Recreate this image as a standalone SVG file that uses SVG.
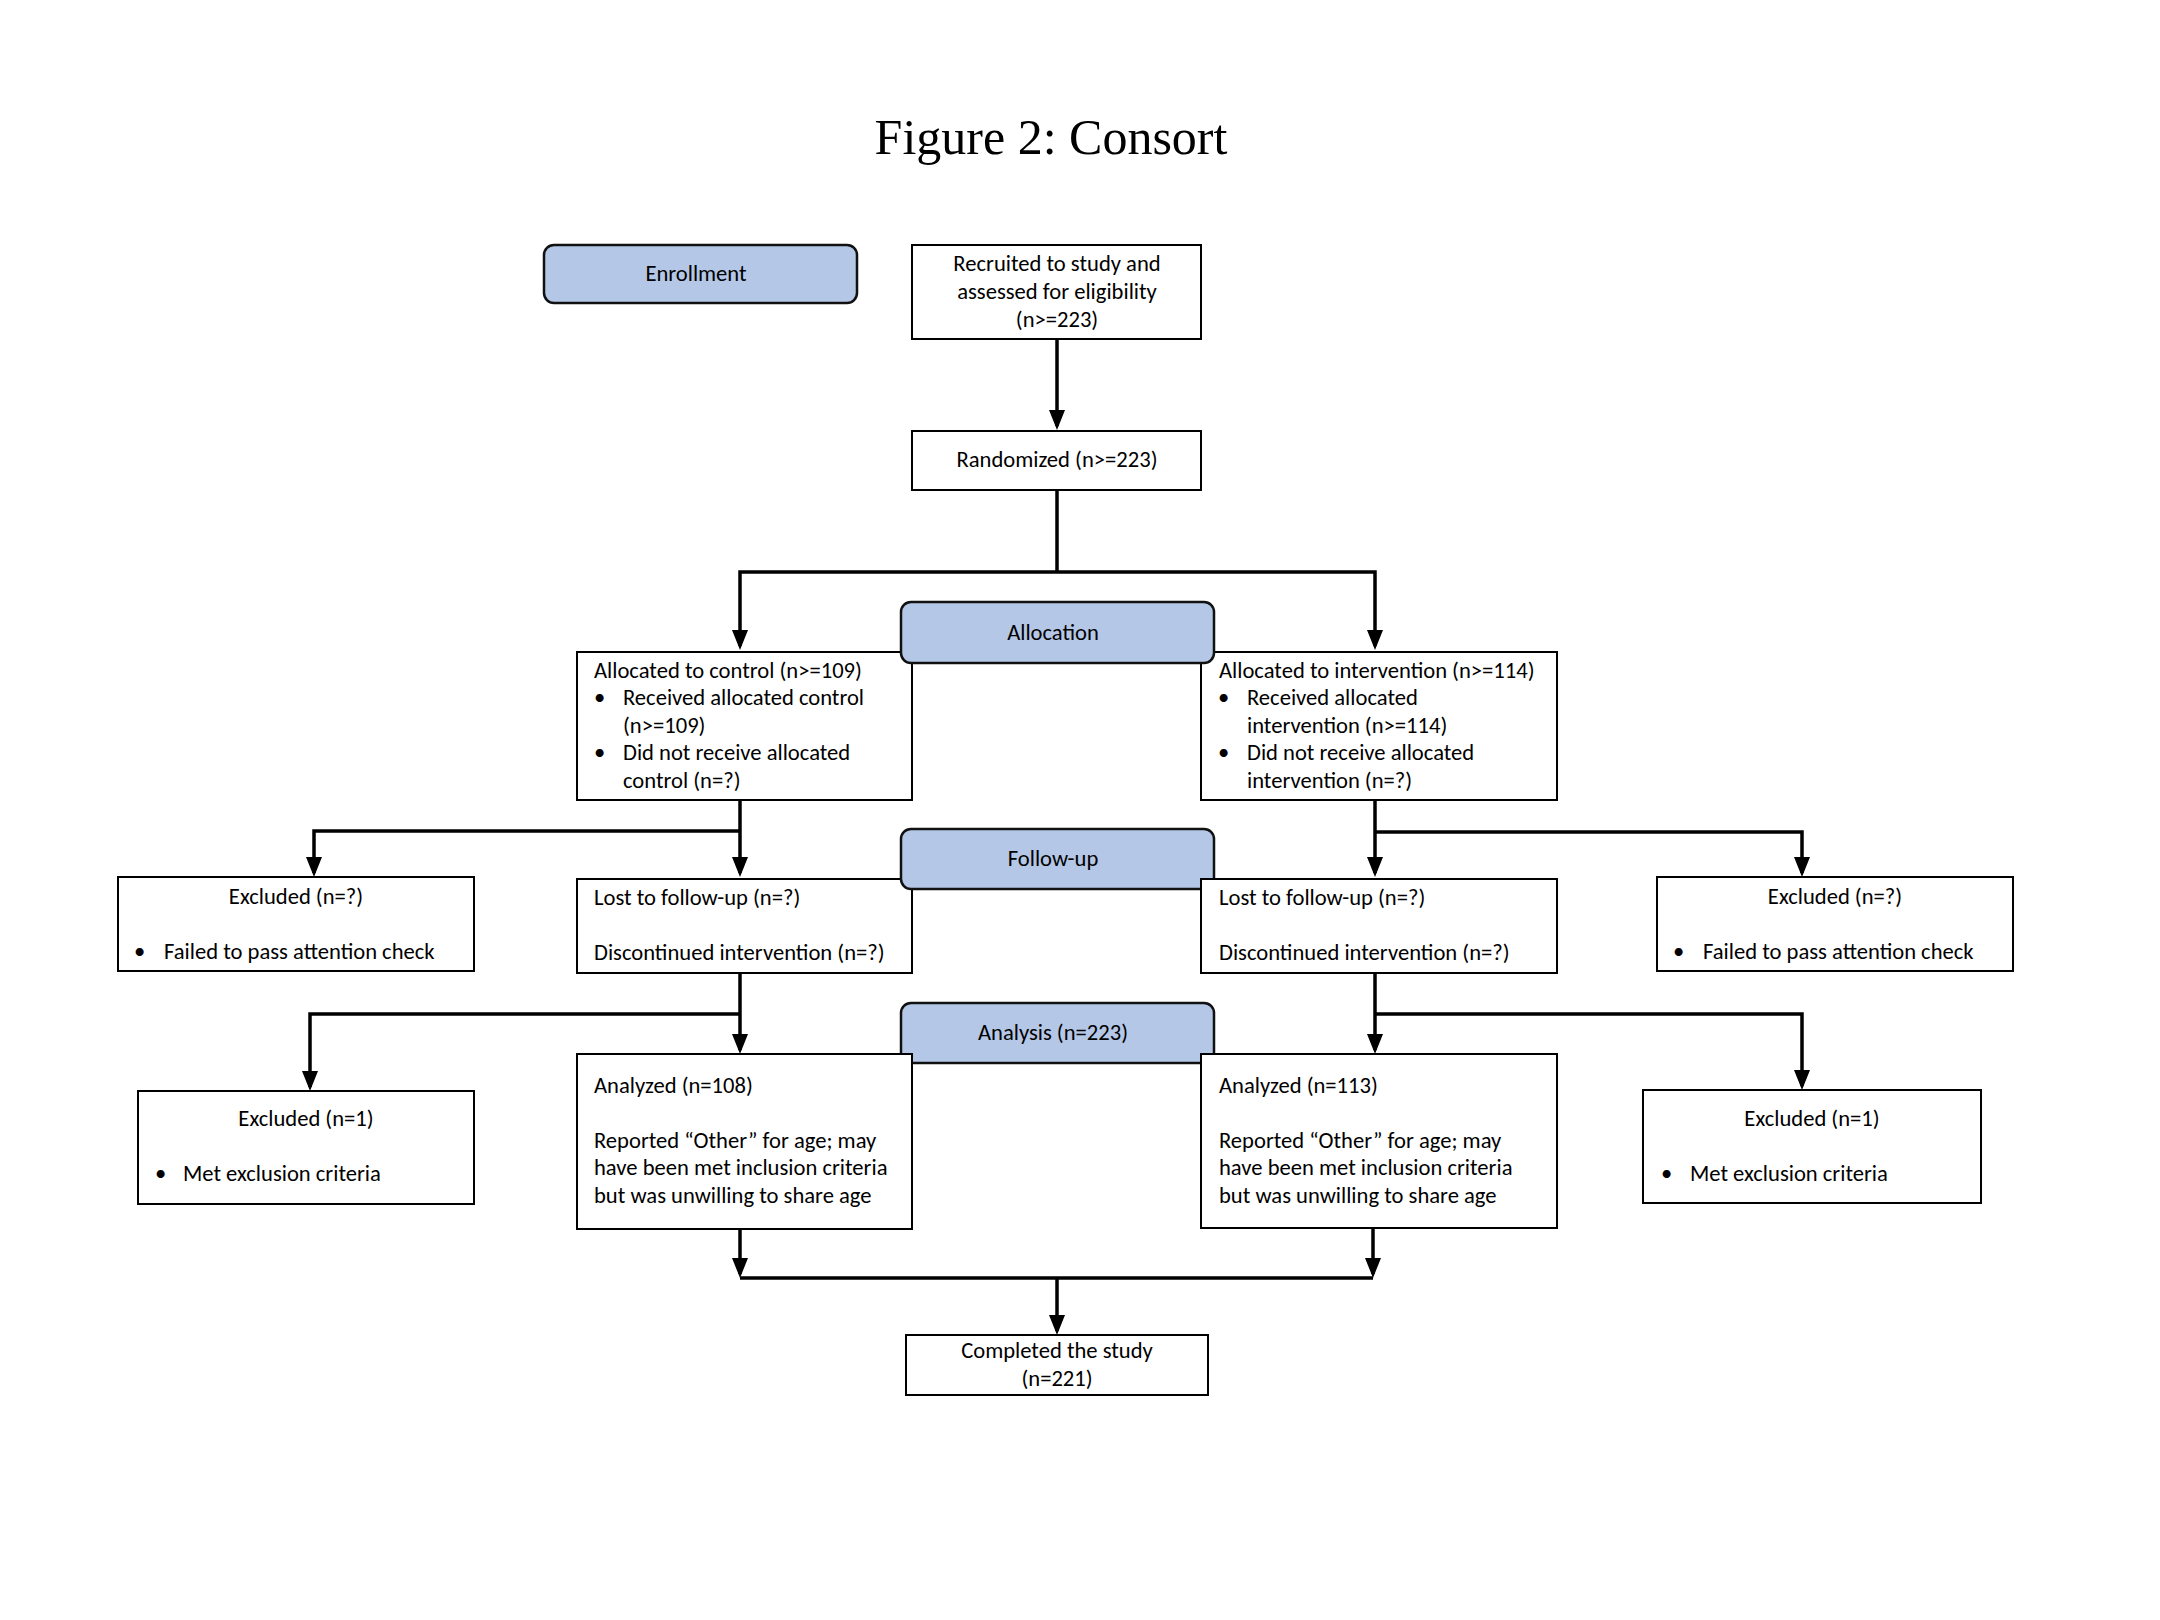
<svg xmlns="http://www.w3.org/2000/svg" width="2160" height="1620" viewBox="0 0 2160 1620">
<style>
.box{fill:#fff;stroke:#000;stroke-width:2}
.hdr{fill:#b4c7e7;stroke:#111;stroke-width:2.5}
.t{font-family:Carlito,Lato,"Liberation Sans",sans-serif;font-size:22.6px;fill:#000}
.c{text-anchor:middle}
.title{font-family:"Liberation Serif","Times New Roman",serif;font-size:50px;fill:#000;text-anchor:middle}
.ln{fill:none;stroke:#000;stroke-width:3.5;stroke-linejoin:miter}
</style>
<defs>
<marker id="ah" markerWidth="20" markerHeight="16" refX="16" refY="8" orient="auto-start-reverse" markerUnits="userSpaceOnUse">
<path d="M0,0 L20,8 L0,16 z" fill="#000"/>
</marker>
</defs>
<rect width="2160" height="1620" fill="#fff"/>
<text class="title" x="1051" y="154">Figure 2: Consort</text>

<g id="connectors">
<path class="ln" d="M1057,339 V426" marker-end="url(#ah)"/>
<path class="ln" d="M1057,490 V572"/>
<path class="ln" d="M740,646 V572 H1375 V646" marker-start="url(#ah)" marker-end="url(#ah)"/>
<path class="ln" d="M740,800 V873" marker-end="url(#ah)"/>
<path class="ln" d="M740,831 H314 V873" marker-end="url(#ah)"/>
<path class="ln" d="M1375,800 V873" marker-end="url(#ah)"/>
<path class="ln" d="M1375,832 H1802 V873" marker-end="url(#ah)"/>
<path class="ln" d="M740,973 V1050" marker-end="url(#ah)"/>
<path class="ln" d="M740,1014 H310 V1087" marker-end="url(#ah)"/>
<path class="ln" d="M1375,973 V1050" marker-end="url(#ah)"/>
<path class="ln" d="M1375,1014 H1802 V1086" marker-end="url(#ah)"/>
<path class="ln" d="M740,1229 V1274" marker-end="url(#ah)"/>
<path class="ln" d="M1373,1229 V1274" marker-end="url(#ah)"/>
<path class="ln" d="M740,1278 H1373"/>
<path class="ln" d="M1057,1278 V1331" marker-end="url(#ah)"/>
</g>

<g id="enrollment">
<rect class="hdr" x="544" y="245" width="313" height="58" rx="10"/>
<text class="t c" x="696" y="281">Enrollment</text>
</g>

<g id="recruited">
<rect class="box" x="912" y="245" width="289" height="94"/>
<text class="t c" x="1057" y="271">Recruited to study and</text>
<text class="t c" x="1057" y="299">assessed for eligibility</text>
<text class="t c" x="1057" y="327">(n&gt;=223)</text>
</g>

<g id="randomized">
<rect class="box" x="912" y="431" width="289" height="59"/>
<text class="t c" x="1057" y="467">Randomized (n&gt;=223)</text>
</g>

<g id="alloc-control">
<rect class="box" x="577" y="652" width="335" height="148"/>
<text class="t" x="594" y="678">Allocated to control (n&gt;=109)</text>
<text class="t" x="594" y="705">•</text>
<text class="t" x="623" y="705">Received allocated control</text>
<text class="t" x="623" y="733">(n&gt;=109)</text>
<text class="t" x="594" y="760">•</text>
<text class="t" x="623" y="760">Did not receive allocated</text>
<text class="t" x="623" y="788">control (n=?)</text>
</g>

<g id="alloc-intervention">
<rect class="box" x="1201" y="652" width="356" height="148"/>
<text class="t" x="1219" y="678">Allocated to intervention (n&gt;=114)</text>
<text class="t" x="1218" y="705">•</text>
<text class="t" x="1247" y="705">Received allocated</text>
<text class="t" x="1247" y="733">intervention (n&gt;=114)</text>
<text class="t" x="1218" y="760">•</text>
<text class="t" x="1247" y="760">Did not receive allocated</text>
<text class="t" x="1247" y="788">intervention (n=?)</text>
</g>

<g id="allocation">
<rect class="hdr" x="901" y="602" width="313" height="61" rx="10"/>
<text class="t c" x="1053" y="640">Allocation</text>
</g>

<g id="excluded-fu-left">
<rect class="box" x="118" y="877" width="356" height="94"/>
<text class="t c" x="296" y="904">Excluded (n=?)</text>
<text class="t" x="134" y="959">•</text>
<text class="t" x="164" y="959">Failed to pass attention check</text>
</g>

<g id="lost-left">
<rect class="box" x="577" y="879" width="335" height="94"/>
<text class="t" x="594" y="905">Lost to follow-up (n=?)</text>
<text class="t" x="594" y="960">Discontinued intervention (n=?)</text>
</g>

<g id="followup">
<rect class="hdr" x="901" y="829" width="313" height="60" rx="10"/>
<text class="t c" x="1053" y="866">Follow-up</text>
</g>

<g id="lost-right">
<rect class="box" x="1201" y="879" width="356" height="94"/>
<text class="t" x="1219" y="905">Lost to follow-up (n=?)</text>
<text class="t" x="1219" y="960">Discontinued intervention (n=?)</text>
</g>

<g id="excluded-fu-right">
<rect class="box" x="1657" y="877" width="356" height="94"/>
<text class="t c" x="1835" y="904">Excluded (n=?)</text>
<text class="t" x="1673" y="959">•</text>
<text class="t" x="1703" y="959">Failed to pass attention check</text>
</g>

<g id="analysis">
<rect class="hdr" x="901" y="1003" width="313" height="60" rx="10"/>
<text class="t c" x="1053" y="1040">Analysis (n=223)</text>
</g>

<g id="excluded-an-left">
<rect class="box" x="138" y="1091" width="336" height="113"/>
<text class="t c" x="306" y="1126">Excluded (n=1)</text>
<text class="t" x="155" y="1181">•</text>
<text class="t" x="183" y="1181">Met exclusion criteria</text>
</g>

<g id="analyzed-left">
<rect class="box" x="577" y="1054" width="335" height="175"/>
<text class="t" x="594" y="1093">Analyzed (n=108)</text>
<text class="t" x="594" y="1148">Reported “Other” for age; may</text>
<text class="t" x="594" y="1175">have been met inclusion criteria</text>
<text class="t" x="594" y="1203">but was unwilling to share age</text>
</g>

<g id="analyzed-right">
<rect class="box" x="1201" y="1054" width="356" height="174"/>
<text class="t" x="1219" y="1093">Analyzed (n=113)</text>
<text class="t" x="1219" y="1148">Reported “Other” for age; may</text>
<text class="t" x="1219" y="1175">have been met inclusion criteria</text>
<text class="t" x="1219" y="1203">but was unwilling to share age</text>
</g>

<g id="excluded-an-right">
<rect class="box" x="1643" y="1090" width="338" height="113"/>
<text class="t c" x="1812" y="1126">Excluded (n=1)</text>
<text class="t" x="1661" y="1181">•</text>
<text class="t" x="1690" y="1181">Met exclusion criteria</text>
</g>

<g id="completed">
<rect class="box" x="906" y="1335" width="302" height="60"/>
<text class="t c" x="1057" y="1358">Completed the study</text>
<text class="t c" x="1057" y="1386">(n=221)</text>
</g>
</svg>
